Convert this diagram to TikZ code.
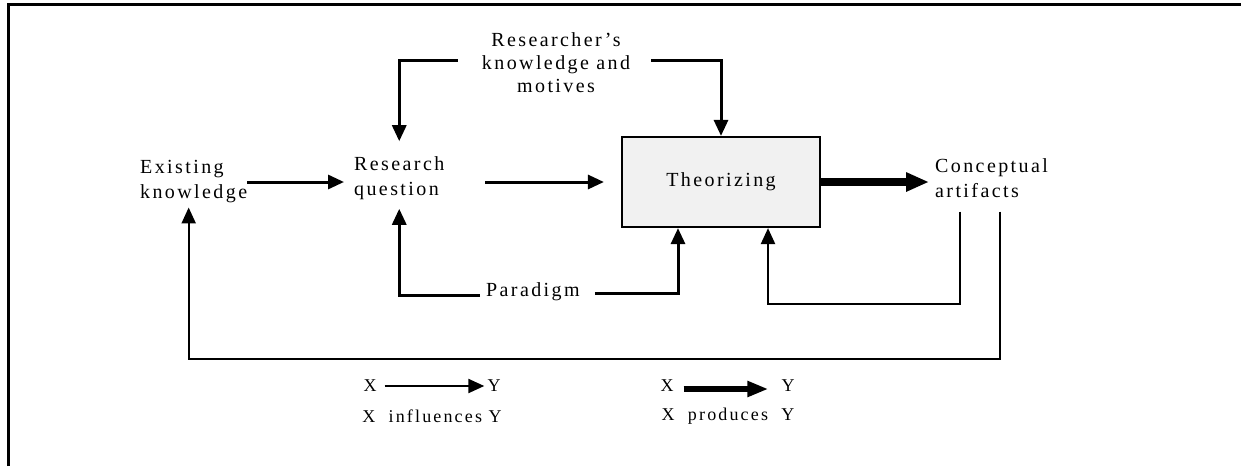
\documentclass[tikz,border=0pt]{standalone}
\usepackage{fontspec}
\setmainfont{Liberation Serif}[LetterSpace=12]
\usetikzlibrary{arrows.meta,calc}
\definecolor{boxgray}{HTML}{F1F1F1}
\tikzset{
  txt/.style={inner sep=0pt, align=left, font=\fontsize{20}{25}\selectfont},
  ctxt/.style={inner sep=0pt, align=center, font=\fontsize{20}{23}\selectfont},
  legtxt/.style={inner sep=0pt, font=\fontsize{18}{22}\selectfont},
  conn/.style={line width=3pt},
  arr/.style={conn, -{Triangle[length=16pt,width=14pt]}},
  thinarr/.style={line width=2.3pt, -{Triangle[length=16pt,width=14pt]}},
  prodarr/.style={line width=8pt, -{Triangle[length=23pt,width=18pt]}},
  procbox/.style={draw, line width=2.2pt, fill=boxgray, minimum width=198pt, minimum height=90pt, inner sep=0pt, font=\fontsize{20}{24}\selectfont},
}
\begin{document}
\begin{tikzpicture}[x=1pt,y=-1pt]
\useasboundingbox (0,0) rectangle (1241,466);
% frame
\draw[line width=3pt] (8,466) -- (8,4) -- (1241,4);
% nodes
\node[txt, anchor=west] (ek) at (140,182) {Existing\\knowledge};
\node[txt, anchor=west] (rq) at (354,178) {Research\\question};
\node[ctxt] (rk) at (556,63) {Researcher's\\knowledge and\\motives};
\node[procbox] (th) at (721,182) {Theorizing};
\node[txt, anchor=west] (ca) at (935,178) {Conceptual\\artifacts};
\node[txt, anchor=west] (pd) at (486,292) {Paradigm};
% connectors
\draw[arr, shorten >=10pt] (ek.east) -- (ek.east -| rq.west);
\draw[arr, shorten <=41pt, shorten >=17pt] (rq.east |- th.west) -- (th.west);
\draw[arr, shorten <=24pt, shorten >=15pt] ([yshift=3pt]rk.west) -| (rq.north);
\draw[arr, shorten <=21pt] ([yshift=3pt]rk.east) -| (th.north);
\draw[arr, shorten <=6pt, shorten >=9pt] ([yshift=-3pt]pd.west) -| (rq.south);
\draw[arr, shorten <=15pt] ([yshift=-1pt]pd.east) -| ([xshift=-43pt]th.south);
\draw[prodarr, shorten >=6pt] (th.east) -- (th.east -| ca.west);
\draw[thinarr] ([shift={(25,14)}]ca.south west) -- ++(0,92) -| ([xshift=47pt]th.south);
\draw[thinarr, shorten >=4pt] ([shift={(65,14)}]ca.south west) -- ++(0,147) -| ([xshift=-5pt]ek.south);
% legend
\node[legtxt] (lx1) at (370,386) {X};
\node[legtxt] (ly1) at (494,386) {Y};
\draw[thinarr, shorten <=8pt, shorten >=3pt] (lx1.east) -- (ly1.west);
\node[legtxt] (li) at (432,416) {X\ \ influences Y};
\node[legtxt] (lx2) at (667,386) {X};
\node[legtxt] (ly2) at (788,386) {Y};
\draw[line width=6pt, -{Triangle[length=21pt,width=15pt]}, shorten <=10pt, shorten >=13pt] ([yshift=-3pt]lx2.east) -- ([yshift=-3pt]ly2.west);
\node[legtxt] (lp) at (728,416) {X\ \ produces\ \ Y};
\end{tikzpicture}
\end{document}
